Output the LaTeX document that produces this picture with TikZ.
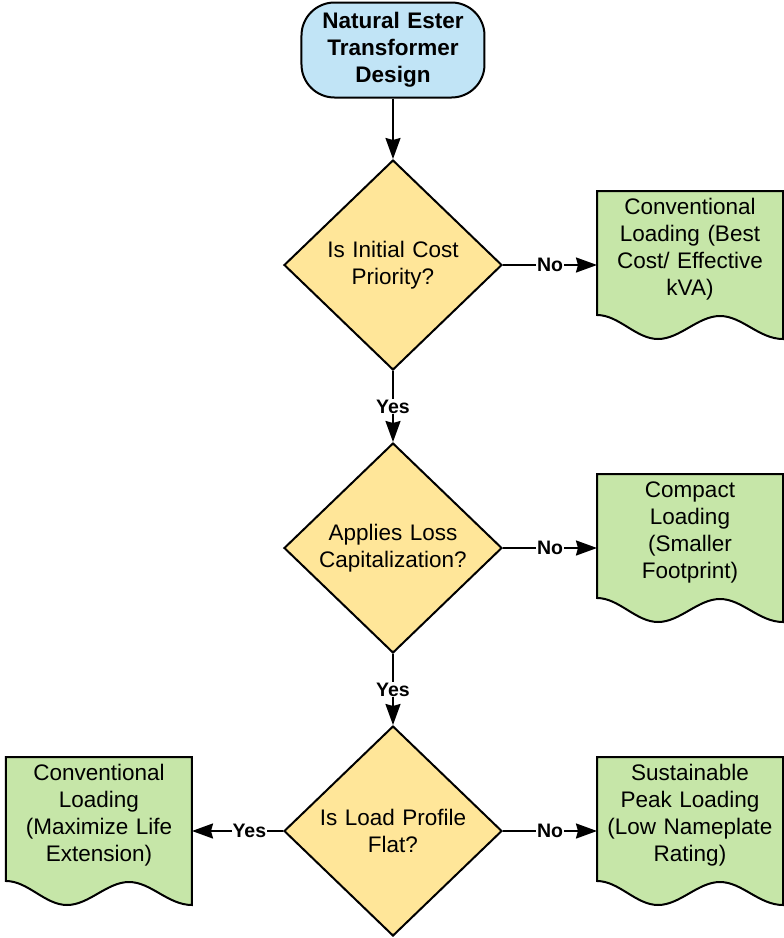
\documentclass[tikz,border=0pt]{standalone}
\usepackage{fontspec}
\setmainfont{Liberation Sans}
\usetikzlibrary{shapes,arrows.meta,backgrounds}
\definecolor{designblue}{RGB}{193,228,246}
\definecolor{askyellow}{RGB}{255,230,153}
\definecolor{loadgreen}{RGB}{198,230,168}
\newcommand{\bodyfont}{\fontsize{22.5pt}{27pt}\selectfont}
\newcommand{\answerfont}{\fontsize{19.5pt}{23pt}\selectfont\bfseries}
\tikzstyle{terminal} = [rectangle, draw, fill=designblue, rounded corners=33pt,
    text width=170pt, text centered, minimum width=183pt, minimum height=95pt,
    inner sep=0pt, font=\bodyfont\bfseries]
\tikzstyle{decision} = [diamond, draw, fill=askyellow,
    text width=150pt, text centered, minimum width=218pt, minimum height=210pt,
    inner sep=0pt, font=\bodyfont]
\tikzstyle{doc} = [rectangle, text width=178pt, text centered,
    minimum width=184pt, minimum height=114pt, inner sep=0pt, font=\bodyfont]
\tikzstyle{docline} = [draw=black, fill=loadgreen, line width=2pt, line join=miter]
\tikzstyle{line} = [draw, -{Stealth[length=21pt,width=15pt,inset=2pt]}]
\tikzstyle{answer} = [fill=white, inner sep=1pt, font=\answerfont]
\newcommand{\docshape}[1]{%
  \path [docline] (#1.north west) -- (#1.north east)
    -- ([yshift=-32pt]#1.south east)
    .. controls ([shift={(162pt,-32pt)}]#1.south west) and ([shift={(145pt,-9pt)}]#1.south west)
    .. ([shift={(123pt,-9pt)}]#1.south west)
    .. controls ([shift={(101pt,-9pt)}]#1.south west) and ([shift={(83pt,-32pt)}]#1.south west)
    .. ([shift={(61pt,-32pt)}]#1.south west)
    .. controls ([shift={(39pt,-32pt)}]#1.south west) and ([shift={(22pt,-8pt)}]#1.south west)
    .. ([yshift=-8pt]#1.south west)
    -- cycle;}

\begin{document}
\begin{tikzpicture}[node distance=283pt, line width=2pt]
    \useasboundingbox (-393pt,50pt) rectangle (391pt,-888pt);
    % Place nodes
    \node [terminal] (design) {Natural Ester\\ Transformer\\ Design};
    \node [decision, below of=design, node distance=215pt] (cost) {Is Initial Cost\\ Priority?};
    \node [decision, below of=cost] (losscap) {Applies Loss\\ Capitalization?};
    \node [decision, below of=losscap] (profile) {Is Load Profile\\ Flat?};
    \node [doc, right of=cost, node distance=297pt, yshift=16pt] (bestcost) {Conventional\\ Loading (Best\\ Cost/ Effective\\ kVA)};
    \node [doc, right of=losscap, node distance=297pt, yshift=16pt] (compact) {Compact\\ Loading\\ (Smaller\\ Footprint)};
    \node [doc, right of=profile, node distance=297pt, yshift=16pt] (peak) {Sustainable\\ Peak Loading\\ (Low Nameplate\\ Rating)};
    \node [doc, left of=profile, node distance=294pt, yshift=16pt] (lifeext) {Conventional\\ Loading\\ (Maximize Life\\ Extension)};
    \begin{scope}[on background layer]
        \docshape{bestcost}
        \docshape{compact}
        \docshape{peak}
        \docshape{lifeext}
    \end{scope}

    \path [line] (design) -- (cost);
    \path [line] (cost) -- node [answer] {Yes} (losscap);
    \path [line] (losscap) -- node [answer] {Yes} (profile);
    \path [line] (cost.east) -- node [answer] {No} (cost.east -| bestcost.west);
    \path [line] (losscap.east) -- node [answer] {No} (losscap.east -| compact.west);
    \path [line] (profile.east) -- node [answer] {No} (profile.east -| peak.west);
    \path [line] (profile.west) -- node [answer, pos=0.37] {Yes} (profile.west -| lifeext.east);
\end{tikzpicture}
\end{document}
